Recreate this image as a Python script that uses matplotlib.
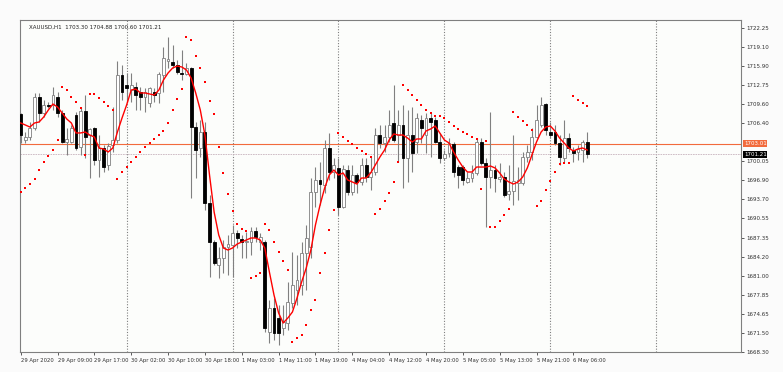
import numpy as np
import matplotlib.pyplot as plt
from matplotlib.transforms import blended_transform_factory

# XAUUSD H1, 29 Apr 2020 01:00 onwards (bar index on x)
opens = [1707.93, 1703.60, 1704.10, 1705.60, 1710.76, 1708.10, 1709.43, 1709.43, 1710.76, 1708.10,
         1703.27, 1703.27, 1707.76, 1702.43, 1708.43, 1704.43, 1705.60, 1700.27, 1702.27, 1699.44,
         1702.77, 1703.60, 1714.42, 1712.76, 1711.92, 1712.42, 1711.59, 1710.76, 1709.76, 1711.59,
         1711.43, 1714.42, 1716.75, 1716.59, 1716.09, 1714.76, 1714.59, 1715.59, 1705.76, 1702.27,
         1704.93, 1693.11, 1686.62, 1682.79, 1683.95, 1685.78, 1686.12, 1688.12, 1687.12, 1686.62,
         1686.62, 1688.45, 1686.62, 1686.62, 1671.63, 1675.63, 1673.96, 1672.30, 1673.13, 1676.46,
         1678.62, 1679.46, 1684.79, 1685.78, 1694.94, 1696.94, 1696.11, 1702.27, 1698.27, 1698.94,
         1692.44, 1698.60, 1694.94, 1697.77, 1696.61, 1699.44, 1697.44, 1698.27, 1704.43, 1703.10,
         1704.10, 1706.43, 1704.43, 1706.10, 1700.60, 1704.43, 1703.27, 1706.93, 1704.43, 1707.26,
         1706.93, 1703.27, 1700.60, 1701.44, 1702.93, 1699.10, 1699.10, 1696.61, 1697.27, 1698.11,
         1703.27, 1699.77, 1697.44, 1698.60, 1697.11, 1697.44, 1694.61, 1695.11, 1696.44, 1696.44,
         1700.77, 1701.60, 1704.10, 1706.10, 1709.59, 1704.93, 1704.93, 1703.10, 1700.60, 1703.93,
         1701.93, 1701.60, 1701.93, 1703.30]
highs = [1708.10, 1704.93, 1706.60, 1711.43, 1711.43, 1710.26, 1709.93, 1712.42, 1711.59, 1708.59,
         1705.60, 1706.10, 1708.26, 1709.09, 1711.09, 1705.60, 1705.76, 1704.43, 1702.77, 1703.10,
         1709.09, 1716.75, 1716.09, 1714.76, 1714.76, 1713.26, 1712.42, 1712.26, 1712.42, 1712.26,
         1714.92, 1719.08, 1720.75, 1719.42, 1716.92, 1718.58, 1716.42, 1715.75, 1706.60, 1706.93,
         1706.60, 1694.44, 1686.95, 1685.78, 1686.95, 1687.78, 1689.45, 1688.61, 1687.78, 1688.28,
         1689.11, 1689.11, 1688.12, 1686.95, 1676.96, 1677.29, 1676.13, 1676.13, 1679.96, 1684.95,
         1684.45, 1686.62, 1689.45, 1697.27, 1699.10, 1699.94, 1703.60, 1704.77, 1700.60, 1700.60,
         1699.44, 1699.44, 1699.44, 1698.11, 1700.60, 1700.60, 1700.77, 1705.60, 1706.10, 1706.10,
         1708.59, 1712.76, 1708.59, 1709.43, 1708.59, 1709.09, 1708.10, 1707.76, 1708.10, 1708.10,
         1707.43, 1704.77, 1701.93, 1703.93, 1703.27, 1699.44, 1699.44, 1698.27, 1699.44, 1703.93,
         1703.93, 1700.60, 1708.26, 1699.44, 1699.77, 1698.27, 1699.44, 1704.43, 1699.10, 1701.60,
         1702.77, 1705.60, 1709.43, 1710.76, 1709.76, 1706.60, 1706.10, 1704.43, 1706.93, 1704.77,
         1702.43, 1702.77, 1703.60, 1704.88]
lows = [1703.10, 1703.10, 1703.60, 1705.26, 1706.60, 1707.43, 1708.93, 1708.59, 1707.43, 1703.10,
        1701.10, 1703.10, 1701.93, 1701.10, 1700.60, 1697.27, 1699.44, 1697.44, 1698.27, 1698.60,
        1701.60, 1703.10, 1710.26, 1709.93, 1709.93, 1708.59, 1708.59, 1708.26, 1709.09, 1709.93,
        1709.76, 1711.59, 1715.59, 1715.59, 1714.59, 1713.59, 1714.42, 1693.94, 1697.27, 1700.77,
        1691.94, 1680.79, 1682.79, 1680.62, 1681.46, 1681.12, 1680.79, 1685.62, 1683.95, 1683.95,
        1684.45, 1686.62, 1685.28, 1671.63, 1669.80, 1670.30, 1669.47, 1671.13, 1671.96, 1675.63,
        1676.13, 1677.79, 1678.62, 1683.95, 1692.44, 1692.78, 1694.78, 1696.94, 1697.27, 1691.11,
        1692.28, 1694.44, 1694.44, 1694.78, 1696.11, 1696.61, 1695.27, 1697.77, 1702.27, 1701.60,
        1703.27, 1703.27, 1699.94, 1695.61, 1696.61, 1698.27, 1701.44, 1703.10, 1701.44, 1700.77,
        1703.10, 1699.77, 1700.27, 1700.77, 1697.44, 1695.61, 1696.11, 1696.44, 1696.61, 1697.77,
        1699.44, 1689.11, 1695.61, 1694.94, 1696.61, 1694.11, 1693.61, 1692.78, 1693.61, 1696.11,
        1699.94, 1700.27, 1703.93, 1705.76, 1704.43, 1703.93, 1702.77, 1699.44, 1699.94, 1701.60,
        1699.94, 1700.27, 1699.94, 1700.60]
closes = [1704.43, 1704.10, 1705.60, 1710.76, 1708.10, 1709.43, 1709.26, 1711.09, 1708.10, 1703.27,
          1703.77, 1705.60, 1702.27, 1708.43, 1704.10, 1705.43, 1700.27, 1702.27, 1699.10, 1702.60,
          1703.60, 1714.42, 1711.59, 1712.26, 1712.76, 1711.09, 1710.76, 1711.59, 1712.26, 1711.09,
          1714.59, 1717.25, 1717.09, 1716.09, 1714.92, 1714.59, 1715.59, 1705.76, 1701.93, 1704.93,
          1693.11, 1686.62, 1683.12, 1683.95, 1685.78, 1686.28, 1688.12, 1687.28, 1686.62, 1686.78,
          1688.45, 1687.45, 1687.45, 1672.30, 1675.63, 1671.47, 1671.47, 1673.30, 1676.63, 1679.46,
          1680.29, 1684.79, 1687.28, 1694.94, 1696.94, 1696.27, 1702.27, 1698.27, 1699.44, 1692.44,
          1698.77, 1694.94, 1697.77, 1696.61, 1699.44, 1697.44, 1698.27, 1704.43, 1703.10, 1704.10,
          1706.10, 1703.60, 1706.10, 1700.60, 1704.43, 1701.44, 1707.26, 1705.60, 1707.26, 1706.60,
          1703.27, 1700.60, 1701.27, 1703.10, 1698.27, 1697.77, 1696.94, 1697.27, 1698.11, 1703.27,
          1699.77, 1697.44, 1698.60, 1697.27, 1697.44, 1694.44, 1695.11, 1696.77, 1696.94, 1700.77,
          1701.60, 1704.10, 1706.93, 1709.43, 1705.26, 1704.43, 1703.10, 1700.77, 1703.93, 1702.27,
          1701.44, 1702.10, 1703.27, 1701.21]

# moving average (red line)
ma = [1706.43, 1706.10, 1705.76, 1706.43, 1706.60, 1707.43, 1708.59, 1709.59, 1709.09, 1708.10,
      1707.10, 1706.43, 1704.77, 1704.77, 1704.93, 1704.43, 1704.10, 1702.27, 1702.10, 1701.60,
      1702.27, 1704.93, 1707.26, 1709.43, 1711.92, 1712.09, 1711.43, 1711.43, 1711.26, 1711.09,
      1711.92, 1713.59, 1714.76, 1715.59, 1715.92, 1715.75, 1715.25, 1713.92, 1711.43, 1708.59,
      1704.43, 1697.77, 1691.61, 1687.78, 1685.62, 1685.28, 1685.62, 1686.28, 1686.62, 1686.95,
      1687.28, 1687.28, 1686.95, 1685.62, 1681.62, 1677.79, 1674.80, 1673.13, 1673.96, 1674.96,
      1677.29, 1679.96, 1682.29, 1685.28, 1689.45, 1692.78, 1695.61, 1697.77, 1698.60, 1697.77,
      1698.11, 1696.94, 1696.61, 1696.27, 1697.27, 1697.27, 1698.11, 1699.44, 1700.77, 1701.93,
      1703.60, 1704.60, 1704.43, 1704.43, 1703.93, 1703.27, 1703.77, 1703.77, 1705.10, 1705.43,
      1705.93, 1704.77, 1703.60, 1703.10, 1701.60, 1700.27, 1699.10, 1698.27, 1698.27, 1699.10,
      1699.10, 1699.10, 1699.27, 1698.94, 1698.11, 1697.11, 1696.61, 1696.27, 1696.61, 1697.44,
      1698.94, 1701.10, 1703.27, 1704.93, 1705.76, 1705.93, 1705.10, 1703.93, 1703.10, 1702.27,
      1701.77, 1702.10, 1702.27, 1701.93]

# parabolic SAR dots
sar = [1694.94, 1695.61, 1696.27, 1697.11, 1698.60, 1699.94, 1700.94, 1701.93, 1703.60, 1712.42,
       1711.92, 1710.76, 1709.93, 1708.93, 1701.10, 1711.26, 1711.26, 1710.59, 1709.93, 1709.26,
       1708.59, 1697.11, 1698.27, 1699.10, 1699.94, 1700.77, 1701.60, 1702.43, 1703.10, 1703.77,
       1704.43, 1705.10, 1706.43, 1708.59, 1710.43, 1712.09, 1720.75, 1720.25, 1717.59, 1715.59,
       1713.26, 1710.09, 1707.93, 1702.43, 1698.11, 1694.61, 1691.78, 1689.61, 1688.78, 1688.45,
       1680.62, 1680.96, 1681.46, 1689.61, 1688.61, 1686.62, 1684.95, 1683.45, 1681.95, 1669.97,
       1670.63, 1671.13, 1672.80, 1675.29, 1676.96, 1681.46, 1684.79, 1688.61, 1691.94, 1704.77,
       1704.10, 1703.43, 1702.93, 1702.27, 1701.77, 1701.27, 1700.77, 1691.28, 1692.11, 1693.44,
       1694.78, 1696.61, 1699.94, 1712.76, 1711.92, 1711.09, 1710.26, 1709.43, 1708.59, 1708.10,
       1707.60, 1707.60, 1707.26, 1706.60, 1705.93, 1705.43, 1704.93, 1704.60, 1704.10, 1703.77,
       1695.44, 1703.43, 1689.11, 1689.11, 1690.11, 1691.11, 1692.11, 1708.26, 1707.43, 1706.76,
       1706.10, 1705.26, 1692.61, 1693.44, 1695.27, 1696.77, 1698.27, 1699.60, 1699.77, 1699.77,
       1710.93, 1710.26, 1709.76, 1709.26]

time_labels = ["29 Apr 2020", "29 Apr 09:00", "29 Apr 17:00", "30 Apr 02:00", "30 Apr 10:00",
               "30 Apr 18:00", "1 May 03:00", "1 May 11:00", "1 May 19:00", "4 May 04:00",
               "4 May 12:00", "4 May 20:00", "5 May 05:00", "5 May 13:00", "5 May 21:00",
               "6 May 06:00"]
time_ticks = [0, 8, 16, 24, 32, 40, 48, 56, 64, 72, 80, 88, 96, 104, 112, 120]
day_starts = [23, 46, 69, 92, 115, 138]
price_ticks = [1722.25, 1719.10, 1715.90, 1712.75, 1709.60, 1706.40, 1700.05, 1696.90, 1693.70,
               1690.55, 1687.35, 1684.20, 1681.00, 1677.85, 1674.65, 1671.50, 1668.30]
ask_price = 1703.01
bid_price = 1701.21

o = np.array(opens)
h = np.array(highs)
l = np.array(lows)
c = np.array(closes)
x = np.arange(len(o))

fig = plt.figure(figsize=(7.83, 3.72), dpi=100, facecolor='#fbfbfb')
ax = fig.add_axes([20/783, 20/372, 721/783, 332/372], facecolor='#fcfdfb')

frame = '#7f7f7f'
for s in ax.spines.values():
    s.set_color(frame)
    s.set_linewidth(0.8)

# day separators
for d in day_starts:
    ax.axvline(d, color='#7f7f7f', lw=0.8, ls=(0, (1, 1.5)), zorder=1)

# bid / ask lines
ax.axhline(ask_price, color='#f26a3c', lw=0.8, zorder=2)
ax.axhline(bid_price, color='#c8b4be', lw=0.6, ls=(0, (2, 1)), zorder=2)

# candles
ax.vlines(x, l, h, color='#808080', lw=0.8, zorder=3)
up = c >= o
body_lo = np.minimum(o, c)
body_h = np.maximum(np.abs(c - o), 0.12)
ax.bar(x[up], body_h[up], bottom=body_lo[up], width=0.62, color='white',
       edgecolor='#808080', linewidth=0.6, zorder=4)
ax.bar(x[~up], body_h[~up], bottom=body_lo[~up], width=0.62, color='black',
       edgecolor='black', linewidth=0.6, zorder=4)

# indicators
ax.plot(x, ma, color='red', lw=1.0, zorder=5)
ax.scatter(x, sar, s=2.6, marker='s', color='red', linewidths=0, zorder=6)

ax.set_xlim(-0.15, 156.4)
ax.set_ylim(1668.30, 1723.58)

ax.set_xticks(time_ticks)
ax.set_xticklabels(time_labels, ha='left')
ax.yaxis.tick_right()
ax.set_yticks(price_ticks)
ax.set_yticklabels([f"{v:.2f}" for v in price_ticks])
ax.tick_params(axis='x', length=2.5, width=0.6, color='#404040', pad=1.5,
               labelsize=3.8, labelcolor='#303030')
ax.tick_params(axis='y', length=2.5, width=0.6, color='#404040', pad=1.5,
               labelsize=4.0, labelcolor='#303030')

# price labels on the right axis
tr = blended_transform_factory(ax.transAxes, ax.transData)
ax.text(1.004, ask_price, f"{ask_price:.2f}", transform=tr, fontsize=4.0, color='white',
        va='center', ha='left', clip_on=False,
        bbox=dict(boxstyle='square,pad=0.15', fc='#f26a3c', ec='none'))
ax.text(1.004, bid_price, f"{bid_price:.2f}", transform=tr, fontsize=4.0, color='white',
        va='center', ha='left', clip_on=False,
        bbox=dict(boxstyle='square,pad=0.15', fc='black', ec='none'))

ax.text(0.012, 0.985, "XAUUSD,H1  1703.30 1704.88 1700.60 1701.21", transform=ax.transAxes,
        fontsize=4.0, color='#202020', va='top', ha='left')

fig.savefig('out.png', dpi=100, facecolor=fig.get_facecolor())
